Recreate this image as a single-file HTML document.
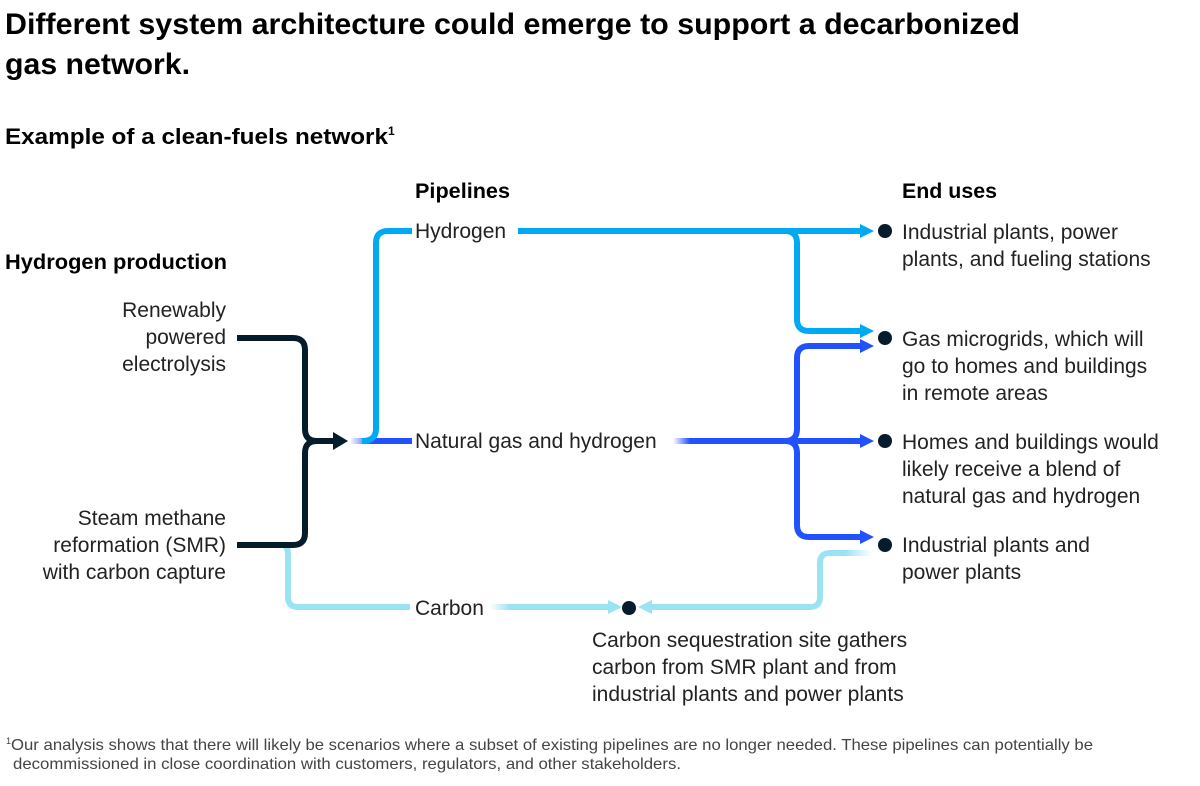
<!DOCTYPE html>
<html><head><meta charset="utf-8"><style>
html,body{margin:0;padding:0;background:#fff;}
svg{display:block;font-family:"Liberation Sans",Arial,sans-serif;}
</style></head><body>
<svg width="1200" height="786" viewBox="0 0 1200 786" xmlns="http://www.w3.org/2000/svg">
<defs>
<linearGradient id="fb" gradientUnits="userSpaceOnUse" x1="350" x2="372" y1="0" y2="0"><stop offset="0" stop-color="#2251ff" stop-opacity="0"/><stop offset="1" stop-color="#2251ff"/></linearGradient>
<linearGradient id="fb2" gradientUnits="userSpaceOnUse" x1="673" x2="690" y1="0" y2="0"><stop offset="0" stop-color="#2251ff" stop-opacity="0"/><stop offset="1" stop-color="#2251ff"/></linearGradient>
<linearGradient id="fc" gradientUnits="userSpaceOnUse" x1="490" x2="510" y1="0" y2="0"><stop offset="0" stop-color="#99e3f3" stop-opacity="0"/><stop offset="1" stop-color="#99e3f3"/></linearGradient>
<linearGradient id="fc2" gradientUnits="userSpaceOnUse" x1="872" x2="845" y1="0" y2="0"><stop offset="0" stop-color="#99e3f3" stop-opacity="0"/><stop offset="1" stop-color="#99e3f3"/></linearGradient>
</defs>
<g fill="#000">
<text x="5" y="34" font-size="30" font-weight="bold" textLength="1015" lengthAdjust="spacingAndGlyphs">Different system architecture could emerge to support a decarbonized</text>
<text x="5" y="74" font-size="30" font-weight="bold" textLength="185" lengthAdjust="spacingAndGlyphs">gas network.</text>
<text x="5" y="144" font-size="22" font-weight="bold"><tspan textLength="383" lengthAdjust="spacingAndGlyphs">Example of a clean-fuels network</tspan><tspan font-size="12" dy="-9">1</tspan></text>
<text x="415" y="198" font-size="21" font-weight="bold" textLength="95" lengthAdjust="spacingAndGlyphs">Pipelines</text>
<text x="902" y="198" font-size="21" font-weight="bold" textLength="95" lengthAdjust="spacingAndGlyphs">End uses</text>
<text x="5" y="269" font-size="21" font-weight="bold" textLength="222" lengthAdjust="spacingAndGlyphs">Hydrogen production</text>
<g font-size="21" text-anchor="end" fill="#222">
<text x="226" y="317">Renewably</text><text x="226" y="344">powered</text><text x="226" y="371">electrolysis</text>
<text x="226" y="525">Steam methane</text><text x="226" y="552">reformation (SMR)</text><text x="226" y="579">with carbon capture</text>
</g>
<g font-size="21" fill="#222">
<text x="415" y="238">Hydrogen</text>
<text x="415" y="448">Natural gas and hydrogen</text>
<text x="415" y="615">Carbon</text>
<text x="902" y="239">Industrial plants, power</text><text x="902" y="266">plants, and fueling stations</text>
<text x="902" y="346">Gas microgrids, which will</text><text x="902" y="373">go to homes and buildings</text><text x="902" y="400">in remote areas</text>
<text x="902" y="449">Homes and buildings would</text><text x="902" y="476">likely receive a blend of</text><text x="902" y="503">natural gas and hydrogen</text>
<text x="902" y="552">Industrial plants and</text><text x="902" y="579">power plants</text>
<text x="592" y="647">Carbon sequestration site gathers</text><text x="592" y="674">carbon from SMR plant and from</text><text x="592" y="701">industrial plants and power plants</text>
</g>
<g font-size="16" fill="#444">
<text x="6" y="750"><tspan font-size="9" dy="-6">1</tspan><tspan dy="6" textLength="1082" lengthAdjust="spacingAndGlyphs">Our analysis shows that there will likely be scenarios where a subset of existing pipelines are no longer needed. These pipelines can potentially be</tspan></text>
<text x="13" y="769" textLength="668" lengthAdjust="spacingAndGlyphs">decommissioned in close coordination with customers, regulators, and other stakeholders.</text>
</g>
</g>
<g fill="none" stroke-width="6">
<path d="M282 545 Q288 545 288 555 V597 Q288 607 298 607 H410" stroke="#99e3f3"/>
<path d="M490 607 H612" stroke="url(#fc)"/>
<path d="M872 553 H830 Q820 553 820 563 V597 Q820 607 810 607 H648" stroke="url(#fc2)"/>
<path d="M237 338 H293 Q305 338 305 350 V429 Q305 441 317 441 H338 M237 545 H293 Q305 545 305 533 V453 Q305 441 317 441" stroke="#051c2c"/>
<path d="M350 441 H412" stroke="url(#fb)"/>
<path d="M362 441 Q376 441 376 429 V243 Q376 231 388 231 H412" stroke="#00a9f4"/>
<path d="M518 231 H862 M785 231 Q797 231 797 243 V319 Q797 331 809 331 H862" stroke="#00a9f4"/>
<path d="M690 441 H862 M785 441 Q797 441 797 429 V358 Q797 346 809 346 H862 M785 441 Q797 441 797 453 V525 Q797 537 809 537 H862" stroke="#2251ff"/>
<path d="M673 441 H692" stroke="url(#fb2)"/>
</g>
<g>
<polygon points="333,432 348,441 333,450" fill="#051c2c"/>
<polygon points="860,224 874,231 860,238" fill="#00a9f4"/>
<polygon points="860,324 874,331 860,338" fill="#00a9f4"/>
<polygon points="860,339 874,346 860,353" fill="#2251ff"/>
<polygon points="860,434 874,441 860,448" fill="#2251ff"/>
<polygon points="860,530 874,537 860,544" fill="#2251ff"/>
<polygon points="608,600 622,607 608,614" fill="#99e3f3"/>
<polygon points="652,600 638,607 652,614" fill="#99e3f3"/>
<g fill="#051c2c">
<circle cx="885" cy="231" r="7"/><circle cx="885" cy="338" r="7"/><circle cx="885" cy="441" r="7"/><circle cx="885" cy="545" r="7"/><circle cx="629" cy="608" r="7"/>
</g>
</g>
</svg>
</body></html>
